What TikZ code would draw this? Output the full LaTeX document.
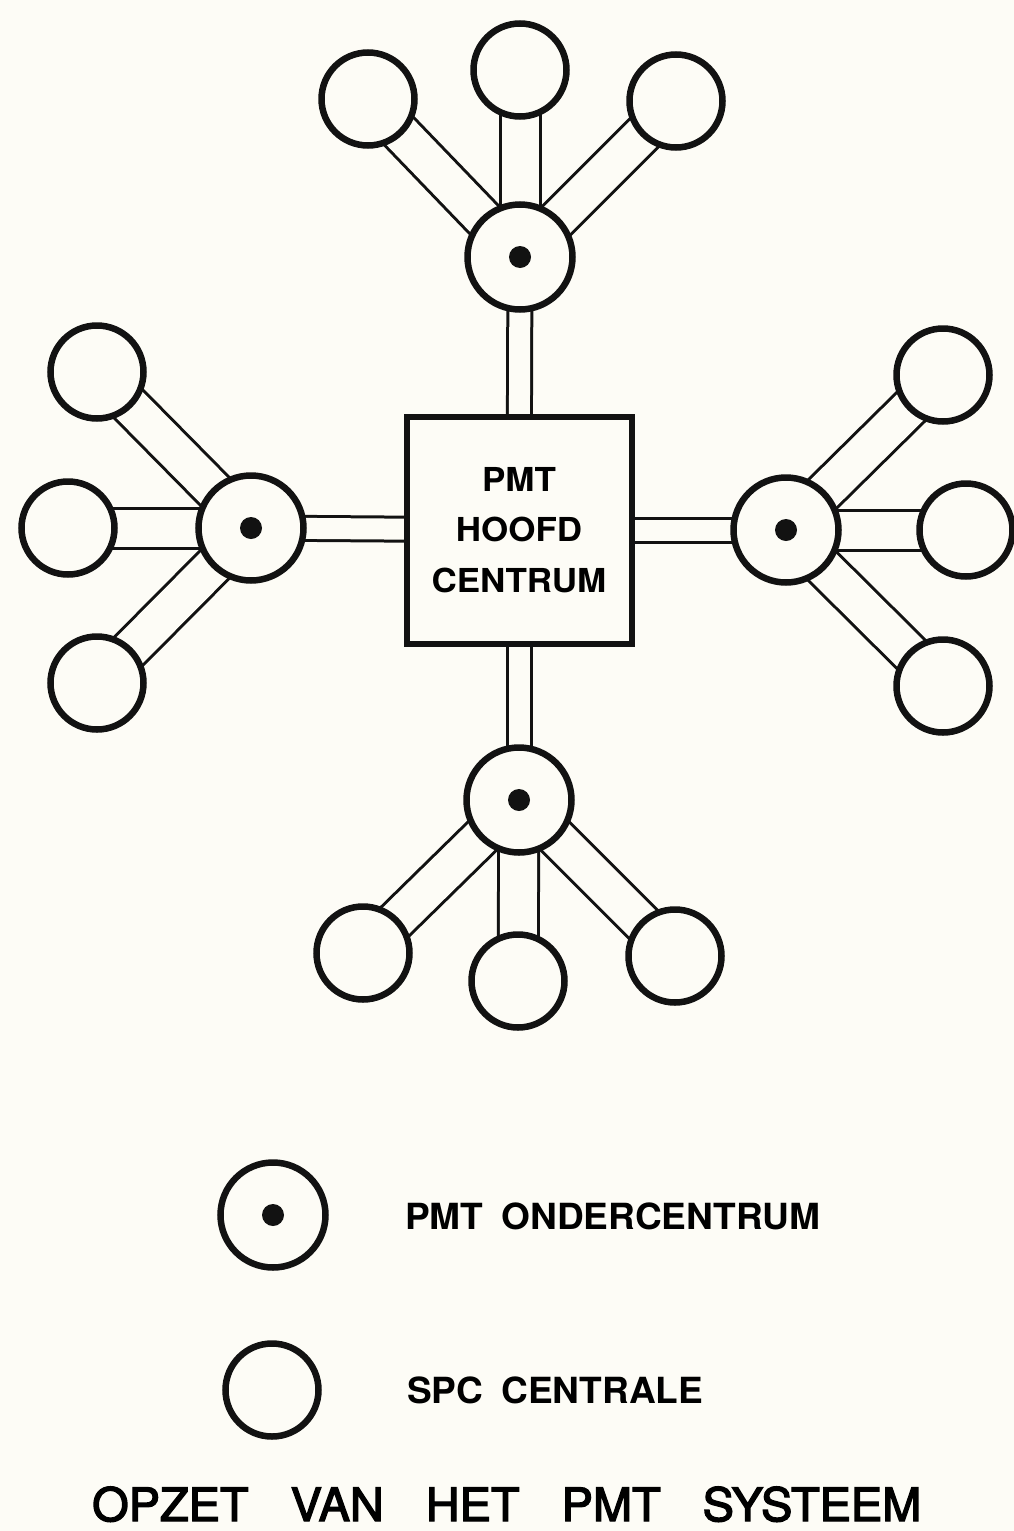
\documentclass[tikz,border=0pt]{standalone}
\usepackage{fontspec}
\setmainfont{TeX Gyre Heros}
\newfontfamily\boxfont[FakeStretch=1.06]{TeX Gyre Heros}
\newfontfamily\legendfont[FakeStretch=1.03]{TeX Gyre Heros}
\newfontfamily\titlefont[FakeBold=3, FakeStretch=1.02]{TeX Gyre Heros}
\usetikzlibrary{backgrounds}
\definecolor{paper}{RGB}{253,252,246}
\definecolor{ink}{RGB}{18,18,18}
\tikzset{
  x=1pt, y=-1pt,
  spc/.style={circle, draw=ink, line width=6.5pt, fill=paper, minimum size=93pt, inner sep=0pt, outer sep=0pt},
  sub/.style={circle, draw=ink, line width=6.5pt, fill=paper, minimum size=105pt, inner sep=0pt, outer sep=0pt,
    path picture={\fill[ink] (path picture bounding box.center) circle (11pt);}},
  hub/.style={rectangle, draw=ink, line width=6pt, fill=paper, minimum width=225pt, minimum height=227pt,
    inner sep=0pt, outer sep=0pt, align=center, font=\boxfont\bfseries\fontsize{33}{50.5}\selectfont},
  spoke/.style={draw=ink, line width=3pt, double=paper, double distance=37pt},
  trunk/.style={draw=ink, line width=3pt, double=paper, double distance=21pt},
  legendtext/.style={anchor=base west, inner sep=0pt, font=\legendfont\bfseries\fontsize{36}{40}\selectfont},
}
\begin{document}
\begin{tikzpicture}
  \useasboundingbox (0,0) rectangle (1014,1531);

  % main centre
  \node[hub] (hc) at (519,530) {PMT\\HOOFD\\CENTRUM};

  % sub-centres
  \node[sub] (st) at (520,257) {};
  \node[sub] (sl) at (251,528) {};
  \node[sub] (sr) at (786,530) {};
  \node[sub] (sb) at (519,800) {};

  % exchanges around the top sub-centre
  \node[spc] (t1) at (368,99) {};
  \node[spc] (t2) at (520,70) {};
  \node[spc] (t3) at (676,101) {};
  % left
  \node[spc] (l1) at (97,372) {};
  \node[spc] (l2) at (68,528) {};
  \node[spc] (l3) at (97,683) {};
  % right
  \node[spc] (r1) at (943,375) {};
  \node[spc] (r2) at (966,530) {};
  \node[spc] (r3) at (943,686) {};
  % bottom
  \node[spc] (b1) at (363,953) {};
  \node[spc] (b2) at (518,981) {};
  \node[spc] (b3) at (675,956) {};

  \begin{scope}[on background layer]
    \fill[paper] (0,0) rectangle (1014,1531);
    \foreach \s in {st,sl,sr,sb} \draw[trunk] (hc.center) -- (\s.center);
    \foreach \e in {t1,t2,t3} \draw[spoke] (st.center) -- (\e.center);
    \foreach \e in {l1,l2,l3} \draw[spoke] (sl.center) -- (\e.center);
    \foreach \e in {r1,r2,r3} \draw[spoke] (sr.center) -- (\e.center);
    \foreach \e in {b1,b2,b3} \draw[spoke] (sb.center) -- (\e.center);
  \end{scope}

  % legend
  \node[sub] (lgsub) at (273,1215) {};
  \node[legendtext] (lgsubt) at (405,1229) {PMT\hskip 18pt ONDERCENTRUM};
  \node[spc] (lgspc) at (272,1390) {};
  \node[legendtext] (lgspct) at (407,1403) {SPC\hskip 18pt CENTRALE};

  % title
  \node[anchor=base west, inner sep=0pt, font=\titlefont\fontsize{46}{50}\selectfont] (title) at (92,1521)
    {OPZET\hskip 42pt VAN\hskip 42pt HET\hskip 42pt PMT\hskip 42pt SYSTEEM};
\end{tikzpicture}
\end{document}
